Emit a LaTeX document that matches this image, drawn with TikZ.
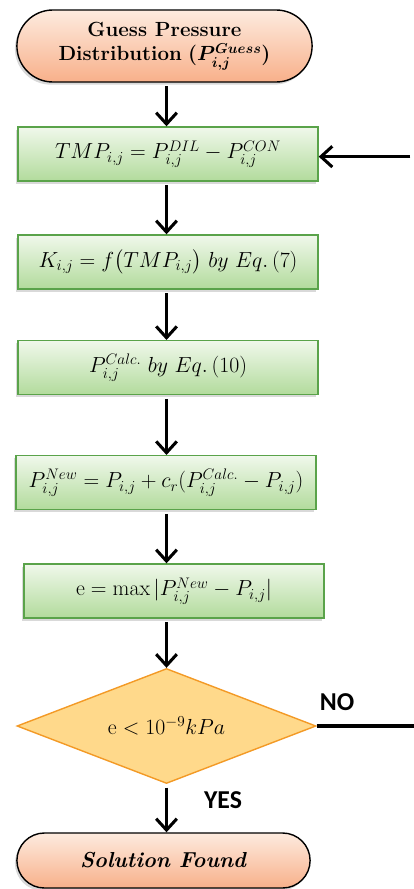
\RequirePackage{fix-cm}
\documentclass[tikz,border=0pt]{standalone}
\usepackage{amsmath}
\usepackage{fontspec}
\newfontfamily\labelfont{Carlito}
\usetikzlibrary{arrows.meta,shapes.geometric,shapes.misc,shadows}

\definecolor{termtop}{HTML}{FDEBDF}
\definecolor{termbot}{HTML}{F8B08A}
\definecolor{boxtop}{HTML}{F0F8EB}
\definecolor{boxbot}{HTML}{B2DB9C}
\definecolor{boxline}{HTML}{5AA34A}
\definecolor{decfill}{HTML}{FFD98B}
\definecolor{decline}{HTML}{F39A26}

\begin{document}
\begin{tikzpicture}[>={Straight Barb[length=3.4mm,width=6.2mm]},
    flow/.style={->,line width=2.6pt,shorten <=3pt},
    line/.style={line width=2.6pt},
    term/.style={rounded rectangle,draw=black,line width=1.2pt,top color=termtop,bottom color=termbot,
        drop shadow={opacity=0.3,shadow xshift=-0.06cm,shadow yshift=-0.08cm},font=\fontsize{17.5}{21}\selectfont},
    calcbox/.style={rectangle,draw=boxline,line width=1.2pt,top color=boxtop,bottom color=boxbot,
        minimum width=9cm,minimum height=1.62cm,inner xsep=1pt,
        drop shadow={opacity=0.3,shadow xshift=-0.06cm,shadow yshift=-0.08cm},font=\fontsize{18.6}{22}\selectfont},
    check/.style={diamond,draw=decline,line width=1.2pt,fill=decfill,inner sep=0pt,aspect=2.6,
        minimum width=8.97cm,minimum height=3.45cm,font=\fontsize{18.6}{22}\selectfont},
    answer/.style={font=\labelfont\bfseries\fontsize{22}{22}\selectfont}]
    \useasboundingbox (0,0) rectangle (12.42,-26.67);

    \node[term,minimum width=9.09cm,minimum height=2.16cm,align=center] (guess) at (4.935,-1.38)
        {\textbf{Guess Pressure}\\\textbf{Distribution} {\boldmath$(P_{i,j}^{Guess})$}};
    \node[calcbox] (tmp) at (5.04,-4.62) {$TMP_{i,j}=P_{i,j}^{DIL}-P_{i,j}^{CON}$};
    \node[calcbox] (perm) at (5.04,-7.86) {$K_{i,j}=f\big(TMP_{i,j}\big)\ by\ Eq.\,(7)$};
    \node[calcbox] (calc) at (5.04,-11.03) {$P_{i,j}^{Calc.}\ by\ Eq.\,(10)$};
    \node[calcbox] (relax) at (4.98,-14.48) {$P_{i,j}^{New}=P_{i,j}+c_r(P_{i,j}^{Calc.}-P_{i,j})$};
    \node[calcbox] (err) at (5.22,-17.73) {$\mathrm{e}=\max|P_{i,j}^{New}-P_{i,j}|$};
    \node[check] (conv) at (4.995,-21.78) {$\mathrm{e}<10^{-9}kPa$};
    \node[term,minimum width=9.03cm,minimum height=1.65cm,font=\fontsize{18.5}{22}\selectfont] (done) at (4.905,-25.815)
        {\textbf{\textit{Solution Found}}};

    \node[answer] (no) at (10.11,-21.06) {NO};
    \node[answer] (yes) at (6.69,-24.0) {YES};

    \coordinate (loopin) at (12.42,-4.7);
    \coordinate (loopout) at (12.42,-21.78);

    \draw[flow] (guess.south -| conv) -- (tmp.north -| conv);
    \draw[flow] (tmp.south -| conv) -- (perm.north -| conv);
    \draw[flow] (perm.south -| conv) -- (calc.north -| conv);
    \draw[flow] (calc.south -| conv) -- (relax.north -| conv);
    \draw[flow] (relax.south -| conv) -- (err.north -| conv);
    \draw[flow] (err.south -| conv) -- (conv.north);
    \draw[flow] (conv.south) -- (done.north -| conv);
    \draw[flow] (loopin) -- (tmp.east |- loopin);
    \draw[line] (conv.east) -- (loopout);
\end{tikzpicture}
\end{document}
